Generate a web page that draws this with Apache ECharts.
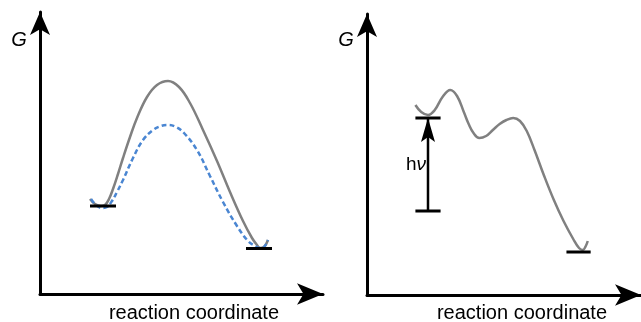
<!DOCTYPE html>
<html>
<head>
<meta charset="utf-8">
<script src="https://cdn.jsdelivr.net/npm/echarts@6/dist/echarts.min.js"></script>
<style>html,body{margin:0;padding:0;background:#fff}#c{width:641px;height:322px}</style>
</head>
<body>
<div id="c"></div>
<script>
// Left panel: thermal reaction profile (x = reaction coordinate, y = G)
const leftUncatalysed = [[50,95],[55,90],[61,88],[65,89],[69,95],[73,105],[78,120],[83,136],[90,157],[97,176],[107,197],[117,209],[128,213],[139,207],[150,191],[163,164],[177,133],[190,102],[203,73],[212,56],[217,49],[220,46],[224,47],[228,54]];
const leftCatalysed = [[51,95],[56,89],[62,86],[67,87],[72,93],[77,102],[83,114],[93,136],[103,154],[113,164],[121,168],[128,169],[136,167],[144,161],[157,144],[170,118],[183,92],[197,68],[208,53],[215,48],[220,46],[224,47],[228,54]];
const leftReactantLevel = [[50,88],[76,88]];
const leftProductLevel = [[206,45.5],[232,45.5]];
// Right panel: photochemical profile
const rightExcited = [[50,190],[56,183],[63,180],[70,185],[78,198],[86,205],[93,199],[100,183],[105,171],[110,162],[116,157],[123,159],[130,165],[137,171],[144,175],[151,177],[158,174],[165,164],[173,145],[183,119],[193,95],[203,74],[213,56],[219,47],[223,45],[226,49],[228,54]];
const rightExcitedLevel = [[50,177],[76,177]];
const rightGroundLevel = [[50,84],[76,84]];
const rightProductLevel = [[206,43],[231,43]];
const rightExcitation = [[63,84],[63,177]];
const xTitle = 'reaction coordinate';
const yTitle = 'G';
const excitationLabel = 'ν';

const FONT = 'Liberation Sans, Arial, sans-serif';
const ARROW = 'path://M7,0 L14,24 L7,19 L0,24 Z';
const chart = echarts.init(document.getElementById('c'), null, {renderer:'canvas'});

function axisX(gi, max){
  return {type:'value', gridIndex:gi, min:0, max:max,
    axisLine:{show:true, lineStyle:{color:'#000', width:3}, symbol:['none','arrow'], symbolSize:[16,26], symbolOffset:[0,0]},
    axisTick:{show:false}, axisLabel:{show:false}, splitLine:{show:false}};
}
function axisY(gi, max){
  return {type:'value', gridIndex:gi, min:0, max:max,
    axisLine:{show:true, lineStyle:{color:'#000', width:3}, symbol:['none','arrow'], symbolSize:[15,23], symbolOffset:[0,0]},
    axisTick:{show:false}, axisLabel:{show:false}, splitLine:{show:false}};
}
function curve(data, gi, color, width, type, z){
  return {type:'line', xAxisIndex:gi, yAxisIndex:gi, data:data, smooth:0.4, symbol:'none', z:z||2,
    lineStyle:{color:color, width:width, type:type||'solid'}};
}
function level(data, gi){
  return {type:'line', xAxisIndex:gi, yAxisIndex:gi, data:data, symbol:'none', z:5,
    lineStyle:{color:'#000', width:3}};
}

const option = {
  animation:false,
  grid:[
    {left:40, top:12, width:283, height:282},
    {left:367, top:14, width:283, height:281}
  ],
  xAxis:[axisX(0,283), axisX(1,283)],
  yAxis:[axisY(0,282), axisY(1,281)],
  series:[
    curve(leftUncatalysed, 0, '#808080', 2.5, 'solid', 2),
    curve(leftCatalysed, 0, '#4a86d2', 2.5, [5,3], 3),
    level(leftReactantLevel, 0),
    level(leftProductLevel, 0),
    curve(rightExcited, 1, '#808080', 2.5, 'solid', 2),
    level(rightExcitedLevel, 1),
    level(rightGroundLevel, 1),
    level(rightProductLevel, 1),
    {type:'line', xAxisIndex:1, yAxisIndex:1, z:6,
      data:[{value:rightExcitation[0], symbol:'none'},
            {value:rightExcitation[1], symbol:ARROW, symbolSize:[14,24], symbolKeepAspect:false, symbolOffset:[0,12]}],
      lineStyle:{color:'#000', width:2.5}, itemStyle:{color:'#000'}}
  ],
  graphic:[
    {type:'text', x:194, y:313, style:{text:xTitle, font:'20px '+FONT, fill:'#000', align:'center', verticalAlign:'middle'}},
    {type:'text', x:522, y:313, style:{text:xTitle, font:'20px '+FONT, fill:'#000', align:'center', verticalAlign:'middle'}},
    {type:'text', x:19, y:40, style:{text:yTitle, font:'italic 20px '+FONT, fill:'#000', align:'center', verticalAlign:'middle'}},
    {type:'text', x:346, y:40, style:{text:yTitle, font:'italic 20px '+FONT, fill:'#000', align:'center', verticalAlign:'middle'}},
    {type:'text', x:416, y:165, style:{text:'{n|h}{i|'+excitationLabel+'}', align:'center', verticalAlign:'middle',
      rich:{n:{fontSize:19, fontFamily:FONT, fill:'#000'}, i:{fontSize:19, fontFamily:FONT, fontStyle:'italic', fill:'#000'}}}}
  ]
};
chart.setOption(option);
</script>
</body>
</html>
